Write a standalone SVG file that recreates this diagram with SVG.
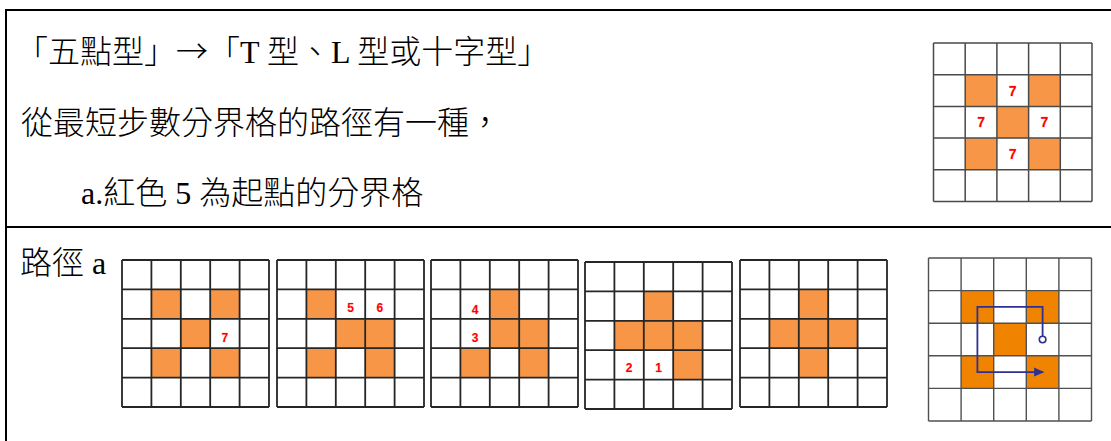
<svg xmlns="http://www.w3.org/2000/svg" xmlns:xlink="http://www.w3.org/1999/xlink" width="1111" height="441" viewBox="0 0 1111 441">
<style>
.t{font-family:"Liberation Serif","Noto Sans CJK TC",serif;font-size:32px;font-weight:300;fill:#000}
.cjk{font-family:"Noto Sans CJK TC",sans-serif}
.gl{fill:none;stroke:#262626;stroke-width:1.8}
.gl2{fill:none;stroke:#4a4a4a;stroke-width:1.5}
.gl3{fill:none;stroke:#505050;stroke-width:1.4}
.o{fill:#F79646}
.o2{fill:#F08400}
.n{font-family:"Liberation Sans",Arial,sans-serif;font-weight:bold;font-size:12px;fill:#FF0000;text-anchor:middle;stroke:#ffb0b0;stroke-width:0.4;paint-order:stroke}
.n2{font-size:14px}
.frame{stroke:#000;stroke-width:2;fill:none}
.path{fill:none;stroke:#2E3192;stroke-width:1.8}
</style>
<defs>
<path id="g147" d="M0 0H147M0 29.4H147M0 58.8H147M0 88.2H147M0 117.6H147M0 147H147M0 0V147M29.4 0V147M58.8 0V147M88.2 0V147M117.6 0V147M147 0V147"/>
<marker id="arr" markerWidth="10" markerHeight="10" refX="9" refY="5" orient="auto" markerUnits="userSpaceOnUse">
<path d="M0 0.5L10 5L0 9.5Z" fill="#2E3192"/>
</marker>
</defs>
<g id="frame">
<path class="frame" d="M6 9V441M5 10H1111M6 227H1111"/>
</g>
<g id="texts">
<text class="t" x="16" y="63">「五點型」<tspan class="cjk">→</tspan>「T 型、L 型或十字型」</text>
<text class="t" x="21" y="134">從最短步數分界格的路徑有一種，</text>
<text class="t" x="81" y="204">a.紅色 5 為起點的分界格</text>
<text class="t" x="20" y="274">路徑 a</text>
</g>
<g id="grid-top" transform="translate(933.5,43)">
<rect class="o" x="31.7" y="31.7" width="31.7" height="31.7"/>
<rect class="o" x="95.1" y="31.7" width="31.7" height="31.7"/>
<rect class="o" x="63.4" y="63.4" width="31.7" height="31.7"/>
<rect class="o" x="31.7" y="95.1" width="31.7" height="31.7"/>
<rect class="o" x="95.1" y="95.1" width="31.7" height="31.7"/>
<path class="gl2" d="M0 0H158.5M0 31.7H158.5M0 63.4H158.5M0 95.1H158.5M0 126.8H158.5M0 158.5H158.5M0 0V158.5M31.7 0V158.5M63.4 0V158.5M95.1 0V158.5M126.8 0V158.5M158.5 0V158.5"/>
<text class="n n2" x="79.25" y="52.6">7</text>
<text class="n n2" x="47.55" y="84.3">7</text>
<text class="n n2" x="110.95" y="84.3">7</text>
<text class="n n2" x="79.25" y="116">7</text>
</g>
<g id="grid-1" transform="translate(122,260)">
<rect class="o" x="29.4" y="29.4" width="29.4" height="29.4"/>
<rect class="o" x="88.2" y="29.4" width="29.4" height="29.4"/>
<rect class="o" x="58.8" y="58.8" width="29.4" height="29.4"/>
<rect class="o" x="29.4" y="88.2" width="29.4" height="29.4"/>
<rect class="o" x="88.2" y="88.2" width="29.4" height="29.4"/>
<use xlink:href="#g147" class="gl"/>
<text class="n" x="102.9" y="81.5">7</text>
</g>
<g id="grid-2" transform="translate(277,260)">
<rect class="o" x="29.4" y="29.4" width="29.4" height="29.4"/>
<rect class="o" x="58.8" y="58.8" width="29.4" height="29.4"/>
<rect class="o" x="88.2" y="58.8" width="29.4" height="29.4"/>
<rect class="o" x="29.4" y="88.2" width="29.4" height="29.4"/>
<rect class="o" x="88.2" y="88.2" width="29.4" height="29.4"/>
<use xlink:href="#g147" class="gl"/>
<text class="n" x="73.5" y="51.5">5</text>
<text class="n" x="102.9" y="51.5">6</text>
</g>
<g id="grid-3" transform="translate(431,260)">
<rect class="o" x="58.8" y="29.4" width="29.4" height="29.4"/>
<rect class="o" x="58.8" y="58.8" width="29.4" height="29.4"/>
<rect class="o" x="88.2" y="58.8" width="29.4" height="29.4"/>
<rect class="o" x="29.4" y="88.2" width="29.4" height="29.4"/>
<rect class="o" x="88.2" y="88.2" width="29.4" height="29.4"/>
<use xlink:href="#g147" class="gl"/>
<text class="n" x="44.1" y="53.5">4</text>
<text class="n" x="44.1" y="81.5">3</text>
</g>
<g id="grid-4" transform="translate(585,262)">
<rect class="o" x="58.8" y="29.4" width="29.4" height="29.4"/>
<rect class="o" x="29.4" y="58.8" width="29.4" height="29.4"/>
<rect class="o" x="58.8" y="58.8" width="29.4" height="29.4"/>
<rect class="o" x="88.2" y="58.8" width="29.4" height="29.4"/>
<rect class="o" x="88.2" y="88.2" width="29.4" height="29.4"/>
<use xlink:href="#g147" class="gl"/>
<text class="n" x="44.1" y="109.5">2</text>
<text class="n" x="73.5" y="109.5">1</text>
</g>
<g id="grid-5" transform="translate(740,260)">
<rect class="o" x="58.8" y="29.4" width="29.4" height="29.4"/>
<rect class="o" x="29.4" y="58.8" width="29.4" height="29.4"/>
<rect class="o" x="58.8" y="58.8" width="29.4" height="29.4"/>
<rect class="o" x="88.2" y="58.8" width="29.4" height="29.4"/>
<rect class="o" x="58.8" y="88.2" width="29.4" height="29.4"/>
<use xlink:href="#g147" class="gl"/>
</g>
<g id="grid-path" transform="translate(928.5,258)">
<rect class="o2" x="32.6" y="32.6" width="32.6" height="32.6"/>
<rect class="o2" x="97.8" y="32.6" width="32.6" height="32.6"/>
<rect class="o2" x="65.2" y="65.2" width="32.6" height="32.6"/>
<rect class="o2" x="32.6" y="97.8" width="32.6" height="32.6"/>
<rect class="o2" x="97.8" y="97.8" width="32.6" height="32.6"/>
<path class="gl3" d="M0 0H163M0 32.6H163M0 65.2H163M0 97.8H163M0 130.4H163M0 163H163M0 0V163M32.6 0V163M65.2 0V163M97.8 0V163M130.4 0V163M163 0V163"/>
</g>
<g id="connectors" transform="translate(928.5,258)">
<path class="path" d="M114.1 78.2V48.9H48.9V114.1H114.6" marker-end="url(#arr)"/>
<circle cx="114.1" cy="81.5" r="3.3" fill="#fff" stroke="#2E3192" stroke-width="1.6"/>
</g>
</svg>
